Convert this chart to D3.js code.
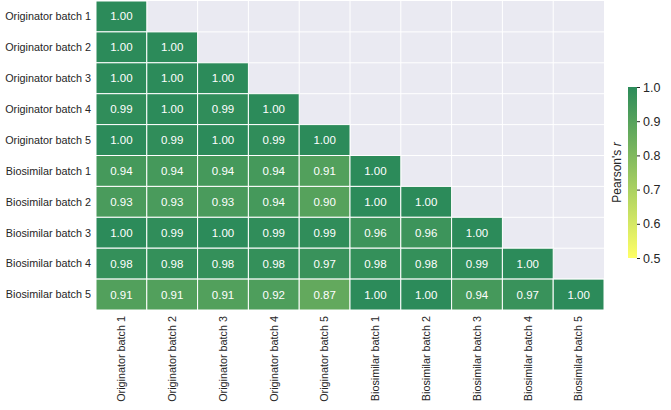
<!DOCTYPE html>
<html>
<head>
<meta charset="utf-8">
<script src="https://cdn.jsdelivr.net/npm/d3@7"></script>
<style>
  body { margin: 0; background: #fff; }
  text { font-family: "Liberation Sans", Arial, sans-serif; }
</style>
</head>
<body>
<div id="chart"></div>
<script>
const batches = [
  "Originator batch 1", "Originator batch 2", "Originator batch 3", "Originator batch 4", "Originator batch 5",
  "Biosimilar batch 1", "Biosimilar batch 2", "Biosimilar batch 3", "Biosimilar batch 4", "Biosimilar batch 5"
]

// lower triangle, row by row
const corr = [
  [1.00],
  [1.00, 1.00],
  [1.00, 1.00, 1.00],
  [0.99, 1.00, 0.99, 1.00],
  [1.00, 0.99, 1.00, 0.99, 1.00],
  [0.94, 0.94, 0.94, 0.94, 0.91, 1.00],
  [0.93, 0.93, 0.93, 0.94, 0.90, 1.00, 1.00],
  [1.00, 0.99, 1.00, 0.99, 0.99, 0.96, 0.96, 1.00],
  [0.98, 0.98, 0.98, 0.98, 0.97, 0.98, 0.98, 0.99, 1.00],
  [0.91, 0.91, 0.91, 0.92, 0.87, 1.00, 1.00, 0.94, 0.97, 1.00]
]

const colorTicks = [0.5, 0.6, 0.7, 0.8, 0.9, 1.0]

const W = 671, H = 410
const plot = { left: 96, right: 604, top: 1, bottom: 310 }

const svg = d3.select("#chart").append("svg")
  .attr("width", W)
  .attr("height", H)

const x = d3.scaleBand().domain(batches).range([plot.left, plot.right])
const y = d3.scaleBand().domain(batches).range([plot.top, plot.bottom])
const color = d3.scaleLinear().domain([0.5, 1]).range(["#ffff66", "#2c8b5a"])

// background + grid
svg.append("rect")
  .attr("x", plot.left).attr("y", plot.top)
  .attr("width", plot.right - plot.left).attr("height", plot.bottom - plot.top)
  .attr("fill", "#eaeaf2")

svg.append("g").selectAll("line")
  .data(batches.slice(1))
  .join("line")
  .attr("x1", d => x(d)).attr("x2", d => x(d))
  .attr("y1", plot.top).attr("y2", plot.bottom)
  .attr("stroke", "#fff").attr("stroke-width", 1)

svg.append("g").selectAll("line")
  .data(batches.slice(1))
  .join("line")
  .attr("y1", d => y(d)).attr("y2", d => y(d))
  .attr("x1", plot.left).attr("x2", plot.right)
  .attr("stroke", "#fff").attr("stroke-width", 1)

const cells = []
corr.forEach((row, i) => row.forEach((v, j) => cells.push({ r: batches[i], c: batches[j], v })))

const cell = svg.append("g").selectAll("g")
  .data(cells)
  .join("g")

cell.append("rect")
  .attr("x", d => x(d.c))
  .attr("y", d => y(d.r))
  .attr("width", x.bandwidth())
  .attr("height", y.bandwidth())
  .attr("fill", d => color(d.v))
  .attr("stroke", "#fff")
  .attr("stroke-width", 1)

cell.append("text")
  .attr("x", d => x(d.c) + x.bandwidth() / 2)
  .attr("y", d => y(d.r) + y.bandwidth() / 2)
  .attr("dy", "0.35em")
  .attr("text-anchor", "middle")
  .attr("fill", "#fff")
  .style("font-size", "11.5px")
  .text(d => d3.format(".2f")(d.v))

// row labels
svg.append("g").selectAll("text")
  .data(batches)
  .join("text")
  .attr("x", plot.left - 5)
  .attr("y", d => y(d) + y.bandwidth() / 2)
  .attr("dy", "0.35em")
  .attr("text-anchor", "end")
  .attr("fill", "#262626")
  .style("font-size", "10.8px")
  .text(d => d)

// column labels
svg.append("g").selectAll("text")
  .data(batches)
  .join("text")
  .attr("transform", d => `translate(${x(d) + x.bandwidth() / 2},${plot.bottom + 6}) rotate(-90)`)
  .attr("dy", "0.35em")
  .attr("text-anchor", "end")
  .attr("fill", "#262626")
  .style("font-size", "10.8px")
  .text(d => d)

// colorbar
const cb = { x: 628, w: 9, top: 87, bottom: 258 }
const cy = d3.scaleLinear().domain([0.5, 1]).range([cb.bottom, cb.top])

const grad = svg.append("defs").append("linearGradient")
  .attr("id", "cbar").attr("x1", 0).attr("y1", 1).attr("x2", 0).attr("y2", 0)
grad.selectAll("stop")
  .data(colorTicks)
  .join("stop")
  .attr("offset", d => (d - 0.5) / 0.5)
  .attr("stop-color", d => color(d))

svg.append("rect")
  .attr("x", cb.x).attr("y", cb.top)
  .attr("width", cb.w).attr("height", cb.bottom - cb.top)
  .attr("fill", "url(#cbar)")

const cAxis = svg.append("g")
  .attr("transform", `translate(${cb.x + cb.w},0)`)
  .call(d3.axisRight(cy).tickValues(colorTicks).tickFormat(d3.format(".1f")).tickSize(3).tickPadding(3))
cAxis.select(".domain").remove()
cAxis.selectAll("line").attr("stroke", "#262626")
cAxis.selectAll("text")
  .attr("fill", "#262626")
  .style("font-size", "12.5px")
  .style("font-family", "'Liberation Sans', Arial, sans-serif")

const cLabel = svg.append("text")
  .attr("transform", `translate(621,${(cb.top + cb.bottom) / 2}) rotate(-90)`)
  .attr("text-anchor", "middle")
  .attr("fill", "#262626")
  .style("font-size", "12px")
cLabel.append("tspan").text("Pearson's ")
cLabel.append("tspan").style("font-style", "italic").text("r")
</script>
</body>
</html>
